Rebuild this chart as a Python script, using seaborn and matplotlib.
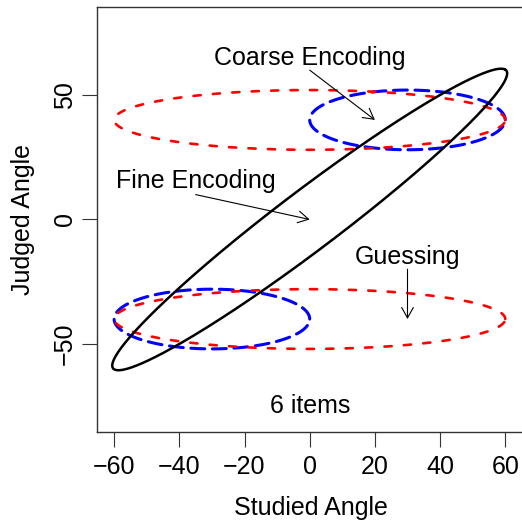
import numpy as np
import pandas as pd
import matplotlib
matplotlib.use("Agg")
import matplotlib.pyplot as plt
import seaborn as sns

# Response ellipses: one for fine encoding, two for coarse encoding, two for guessing
ellipse_ids = ["fine", "coarse_upper", "coarse_lower", "guess_upper", "guess_lower"]
center_x = [0, 30, -30, 0, 0]
center_y = [0, 40, -40, 40, -40]
semi_major = [85, 30, 30, 60, 60]
semi_minor = [10.7, 12, 12, 12, 12]
tilt_deg = [45, 0, 0, 0, 0]
ellipse_kind = ["fine", "coarse", "coarse", "guess", "guess"]

# Annotation labels and their arrows
labels = ["Coarse Encoding", "Fine Encoding", "Guessing"]
label_x = [0, -35, 30]
label_y = [65, 15.5, -15]
arrow_from_x = [0, -35, 30]
arrow_from_y = [60, 10, -20]
arrow_to_x = [20, 0, 30]
arrow_to_y = [40, 0, -40]

note_text = "6 items"
note_x, note_y = 0, -75

x_ticks = [-60, -40, -20, 0, 20, 40, 60]
y_ticks = [-50, 0, 50]

# Build outline points for each ellipse
t = np.linspace(0, 2 * np.pi, 721)
frames = []
for eid, cx, cy, a, b, ang in zip(ellipse_ids, center_x, center_y,
                                  semi_major, semi_minor, tilt_deg):
    th = np.deg2rad(ang)
    ex = cx + a * np.cos(t) * np.cos(th) - b * np.sin(t) * np.sin(th)
    ey = cy + a * np.cos(t) * np.sin(th) + b * np.sin(t) * np.cos(th)
    frames.append(pd.DataFrame({"id": eid, "x": ex, "y": ey, "order": np.arange(len(t))}))
outlines = pd.concat(frames, ignore_index=True)

sns.set_theme(style="ticks")
plt.rcParams["font.family"] = ["Liberation Sans", "DejaVu Sans"]
plt.rcParams["lines.scale_dashes"] = False
plt.rcParams["text.color"] = "black"
plt.rcParams["axes.labelcolor"] = "black"
plt.rcParams["xtick.color"] = "black"
plt.rcParams["ytick.color"] = "black"

fig = plt.figure(figsize=(5.22, 5.25), dpi=100)
ax = fig.add_axes([0.1849, 0.1766, (524.5 - 96.5) / 522, 0.8107])

styles = {
    "coarse": dict(color="#0000ff", linewidth=2.2, linestyle=(0, (10, 5.5)),
                   dash_capstyle="round"),
    "guess": dict(color="#ff0000", linewidth=1.9, linestyle=(0, (5.2, 8.8)),
                  dash_capstyle="round"),
    "fine": dict(color="black", linewidth=1.8, linestyle="-"),
}
for kind in ["coarse", "guess", "fine"]:
    for eid, k in zip(ellipse_ids, ellipse_kind):
        if k != kind:
            continue
        sub = outlines[outlines["id"] == eid]
        sns.lineplot(data=sub, x="x", y="y", sort=False, estimator=None,
                     ax=ax, **styles[kind])

for lab, lx, ly in zip(labels, label_x, label_y):
    ax.text(lx, ly, lab, ha="center", va="center", fontsize=18, color="black")
for fx, fy, tx, ty in zip(arrow_from_x, arrow_from_y, arrow_to_x, arrow_to_y):
    ax.annotate("", xy=(tx, ty), xytext=(fx, fy),
                arrowprops=dict(arrowstyle="->,head_length=0.75,head_width=0.42",
                                color="black", linewidth=0.8,
                                shrinkA=0, shrinkB=0, mutation_scale=10))
ax.text(note_x, note_y, note_text, ha="center", va="center", fontsize=18,
        color="black")

ax.set_xlim(-65.4, 65.9)
ax.set_ylim(-85.5, 85.5)
ax.set_xticks(x_ticks)
ax.set_yticks(y_ticks)
ax.set_xticklabels([str(v).replace("-", "\u2212") for v in x_ticks], fontsize=18)
ax.set_yticklabels([str(v).replace("-", "\u2212") for v in y_ticks], fontsize=18,
                   rotation=90, va="center")
ax.tick_params(axis="both", direction="out", length=11, width=0.8, color="#333333")
ax.tick_params(axis="x", pad=5)
ax.tick_params(axis="y", pad=3)

ax.set_xlabel("Studied Angle", fontsize=18, va="center")
ax.set_ylabel("Judged Angle", fontsize=18, va="center")
ax.xaxis.set_label_coords(0.5, -0.178)
ax.yaxis.set_label_coords(-0.172, 0.5)

for s in ax.spines.values():
    s.set_visible(True)
    s.set_linewidth(1.0)
    s.set_color("#333333")
ax.grid(False)
ax.set_facecolor("white")
fig.patch.set_facecolor("white")

fig.savefig("out.png", dpi=100)
